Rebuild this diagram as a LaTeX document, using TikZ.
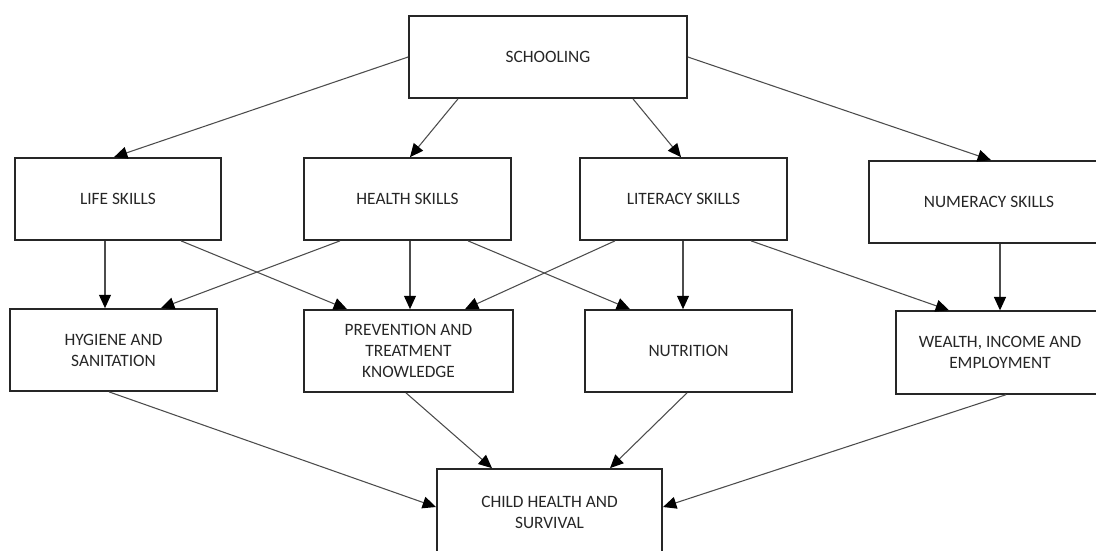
\documentclass[tikz,border=0pt]{standalone}
\usepackage{fontspec}
\setmainfont{Carlito}
\usetikzlibrary{arrows.meta,calc}

\begin{document}
\begin{tikzpicture}[x=0.75pt,y=-0.75pt,
	box/.style={draw=black!85,line width=1.3pt,align=center,minimum width=155pt,minimum height=61.5pt,inner sep=2pt,font=\fontsize{13}{15.75}\selectfont,text=black!85},
	link/.style={->,draw=black!70,line width=0.8pt},
	>={Triangle[length=10pt,width=9pt,color=black]}]
\useasboundingbox (0,0) rectangle (1096,550);
\clip (0,0) rectangle (1096,550);

\node[box,minimum width=208.5pt] (school) at (548,57) {SCHOOLING};
\node[box] (life) at (118,199) {LIFE SKILLS};
\node[box] (health) at (407.5,199) {HEALTH SKILLS};
\node[box] (literacy) at (683.5,199) {LITERACY SKILLS};
\node[box,minimum width=180pt] (numeracy) at (989,202) {NUMERACY SKILLS};
\node[box] (hygiene) at (113.5,350) {HYGIENE AND\\SANITATION};
\node[box,minimum width=157pt] (prevention) at (408.5,351) {PREVENTION AND\\TREATMENT\\KNOWLEDGE};
\node[box] (nutrition) at (688.5,351) {NUTRITION};
\node[box,minimum width=156pt,minimum height=62pt] (wealth) at (1000,352.5) {WEALTH, INCOME AND\\EMPLOYMENT};
\node[box,minimum width=169pt,minimum height=64.5pt] (child) at (549.5,512) {CHILD HEALTH AND\\SURVIVAL};

\draw[link] (school.west) -- ($(life.north)+(-4,0)$);
\draw[link] ($(school.south)+(-90,0)$) -- ($(health.north)+(2.5,0)$);
\draw[link] ($(school.south)+(85,0)$) -- ($(literacy.north)+(-2.5,0)$);
\draw[link] (school.east) -- ($(numeracy.north)+(2,0)$);

\draw[link] ($(life.south)+(-13,0)$) -- ($(hygiene.north)+(-8.5,0)$);
\draw[link] ($(life.south)+(63,0)$) -- ($(prevention.north)+(-61.5,0)$);
\draw[link] ($(health.south)+(-67.5,0)$) -- ($(hygiene.north)+(47.5,0)$);
\draw[link] ($(health.south)+(2.5,0)$) -- ($(prevention.north)+(1.5,0)$);
\draw[link] ($(health.south)+(60.5,0)$) -- ($(nutrition.north)+(-58.5,0)$);
\draw[link] ($(literacy.south)+(-68.5,0)$) -- ($(prevention.north)+(56.5,0)$);
\draw[link] ($(literacy.south)+(-0.5,0)$) -- ($(nutrition.north)+(-5.5,0)$);
\draw[link] ($(literacy.south)+(67.5,0)$) -- ($(wealth.north)+(-51,0)$);
\draw[link] ($(numeracy.south)+(11,0)$) -- (wealth.north);

\draw[link] ($(hygiene.south)+(-4.5,0)$) -- ($(child.west)+(0,-5)$);
\draw[link] ($(prevention.south)+(-2.5,0)$) -- ($(child.north)+(-57.5,0)$);
\draw[link] ($(nutrition.south)+(-1.5,0)$) -- ($(child.north)+(60.5,0)$);
\draw[link] ($(wealth.south)+(6,0)$) -- ($(child.east)+(0,-5)$);

\end{tikzpicture}
\end{document}
